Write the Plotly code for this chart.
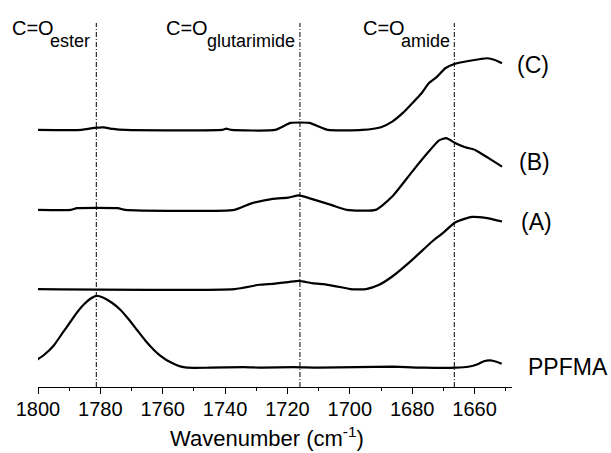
import plotly.graph_objects as go

# ---------------- data ----------------
labels = ["PPFMA", "(A)", "(B)", "(C)"]
offsets = [0.193, 0.980, 1.773, 2.573]          # vertical stacking offsets (a.u.)

wn_ppfma = [1800.6, 1798.2, 1795.0, 1792.3, 1789.6, 1787.5, 1785.4, 1783.2, 1781.3, 1779.0,
            1776.3, 1773.6, 1771.0, 1768.3, 1765.6, 1762.9, 1760.8, 1758.7, 1756.5, 1754.4,
            1752.2, 1745, 1734, 1728, 1718, 1710, 1686, 1676, 1666, 1662, 1659, 1657, 1655, 1653, 1651.3]
ab_ppfma = [0.073, 0.125, 0.22, 0.34, 0.46, 0.553, 0.63, 0.69, 0.72, 0.70,
            0.65, 0.58, 0.487, 0.38, 0.273, 0.18, 0.12, 0.075, 0.04, 0.013,
            0.0, 0.0, 0.005, 0.0, 0.005, 0.0, 0.01, 0.0, 0.0, 0.01, 0.035, 0.065, 0.073, 0.06, 0.04]

wn_a = [1800.6, 1737, 1729, 1724.7, 1719.7, 1716.3, 1712.3, 1708.5, 1702.3, 1699.8, 1694.8,
        1690.6, 1686.4, 1680, 1673.6, 1670, 1666.5, 1663, 1660.8, 1656.5, 1651.2]
ab_a = [0.0, 0.0, 0.043, 0.053, 0.07, 0.083, 0.06, 0.05, 0.016, 0.0, 0.0,
        0.043, 0.126, 0.293, 0.476, 0.565, 0.662, 0.705, 0.722, 0.712, 0.676]

wn_b = [1800.6, 1789.4, 1787.5, 1774.4, 1772, 1737, 1732, 1724.7, 1719.7, 1716.3, 1712.3,
        1706, 1701, 1691.7, 1686.4, 1680, 1674.7, 1671.5, 1669.1, 1666.1, 1663, 1659.8,
        1655.5, 1651.2]
ab_b = [0.0, 0.0, 0.017, 0.017, 0.0, 0.0, 0.06, 0.11, 0.123, 0.145, 0.11,
        0.05, 0.0, 0.0, 0.133, 0.383, 0.583, 0.693, 0.717, 0.667, 0.627, 0.60,
        0.517, 0.433]

wn_c = [1800.6, 1786, 1782, 1779, 1776, 1772, 1741, 1739.6, 1738, 1724, 1719, 1713, 1707,
        1696, 1690, 1686.4, 1683, 1680, 1677, 1674.7, 1672, 1669.4, 1666.5, 1662, 1658,
        1656, 1653.5, 1651.2]
ab_c = [0.0, 0.0, 0.02, 0.025, 0.01, 0.0, 0.0, 0.012, 0.0, 0.0, 0.07, 0.07, 0.0,
        0.0, 0.027, 0.083, 0.17, 0.267, 0.367, 0.467, 0.533, 0.617, 0.66, 0.69, 0.71,
        0.717, 0.70, 0.667]

peak_wn = [1781.3, 1716.0, 1666.5]               # C=O band markers
peak_main = ["C=O", "C=O", "C=O"]
peak_sub = ["ester", "glutarimide", "amide"]

x_ticks = [1800, 1780, 1760, 1740, 1720, 1700, 1680, 1660]

# ---------------- figure ----------------
W, H = 611, 453
L, R, T, B = 37.7, 99, 23, 65.7
PW, PH = W - L - R, H - T - B
FONT = "Liberation Sans, Arial, sans-serif"

def px(xp):  # pixel -> paper x
    return (xp - L) / PW

def py(yp):  # pixel -> paper y
    return 1 - (yp - T) / PH

fig = go.Figure()
series = [(wn_ppfma, ab_ppfma), (wn_a, ab_a), (wn_b, ab_b), (wn_c, ab_c)]
for (wn, ab), off, name in zip(series, offsets, labels):
    fig.add_trace(go.Scatter(
        x=wn, y=[v + off for v in ab], mode="lines", name=name,
        line=dict(color="black", width=2.2, shape="spline", smoothing=0.5),
        showlegend=False, hoverinfo="skip"))

for w in peak_wn:
    fig.add_shape(type="line", xref="x", yref="paper", x0=w, x1=w, y0=0, y1=1,
                  line=dict(color="black", width=1, dash="5px,2px,1px,2px"), layer="below")

ann = []
main_left = [10, 164, 361]
sub_right = [92, 296.5, 452]
for i in range(3):
    ann.append(dict(text=peak_main[i], x=px(main_left[i]), y=py(28), xref="paper", yref="paper",
                    xanchor="left", yanchor="middle", showarrow=False,
                    font=dict(family=FONT, size=20, color="black")))
    ann.append(dict(text=peak_sub[i], x=px(sub_right[i]), y=py(41.5), xref="paper", yref="paper",
                    xanchor="right", yanchor="middle", showarrow=False,
                    font=dict(family=FONT, size=18, color="black")))

lab_left = [None, 519, 517, 515.5]
lab_y = [367, 221.7, 161.7, 65]
for i, name in enumerate(labels):
    if name == "PPFMA":
        ann.append(dict(text=name, x=px(610), y=py(lab_y[i]), xref="paper", yref="paper",
                        xanchor="right", yanchor="middle", showarrow=False,
                        font=dict(family=FONT, size=23, color="black")))
    else:
        ann.append(dict(text=name, x=px(lab_left[i]), y=py(lab_y[i]), xref="paper", yref="paper",
                        xanchor="left", yanchor="middle", showarrow=False,
                        font=dict(family=FONT, size=23, color="black")))

ann.append(dict(text="Wavenumber (cm<sup>-1</sup>)", x=px(266.5), y=py(437), xref="paper",
                yref="paper", xanchor="center", yanchor="middle", showarrow=False,
                font=dict(family=FONT, size=22, color="black")))

fig.update_layout(
    width=W, height=H,
    margin=dict(l=L, r=R, t=T, b=B, pad=0),
    paper_bgcolor="white", plot_bgcolor="white",
    font=dict(family=FONT, color="black"),
    annotations=ann,
    xaxis=dict(range=[1800, 1648], tickvals=x_ticks, ticks="outside", ticklen=6, tickwidth=1.2,
               tickcolor="black", showline=True, linecolor="black", linewidth=1.3,
               showgrid=False, zeroline=False, ticklabelstandoff=-2,
               tickfont=dict(family=FONT, size=20, color="black"),
               minor=dict(dtick=10, tick0=1800, ticks="outside", ticklen=3, tickwidth=1.2,
                          tickcolor="black", showgrid=False)),
    yaxis=dict(range=[0, 3.643], visible=False, showgrid=False, zeroline=False),
)

fig.write_html("out.html", config={"displayModeBar": False},
               post_script="document.body.style.margin='0';document.body.style.overflow='hidden';")
